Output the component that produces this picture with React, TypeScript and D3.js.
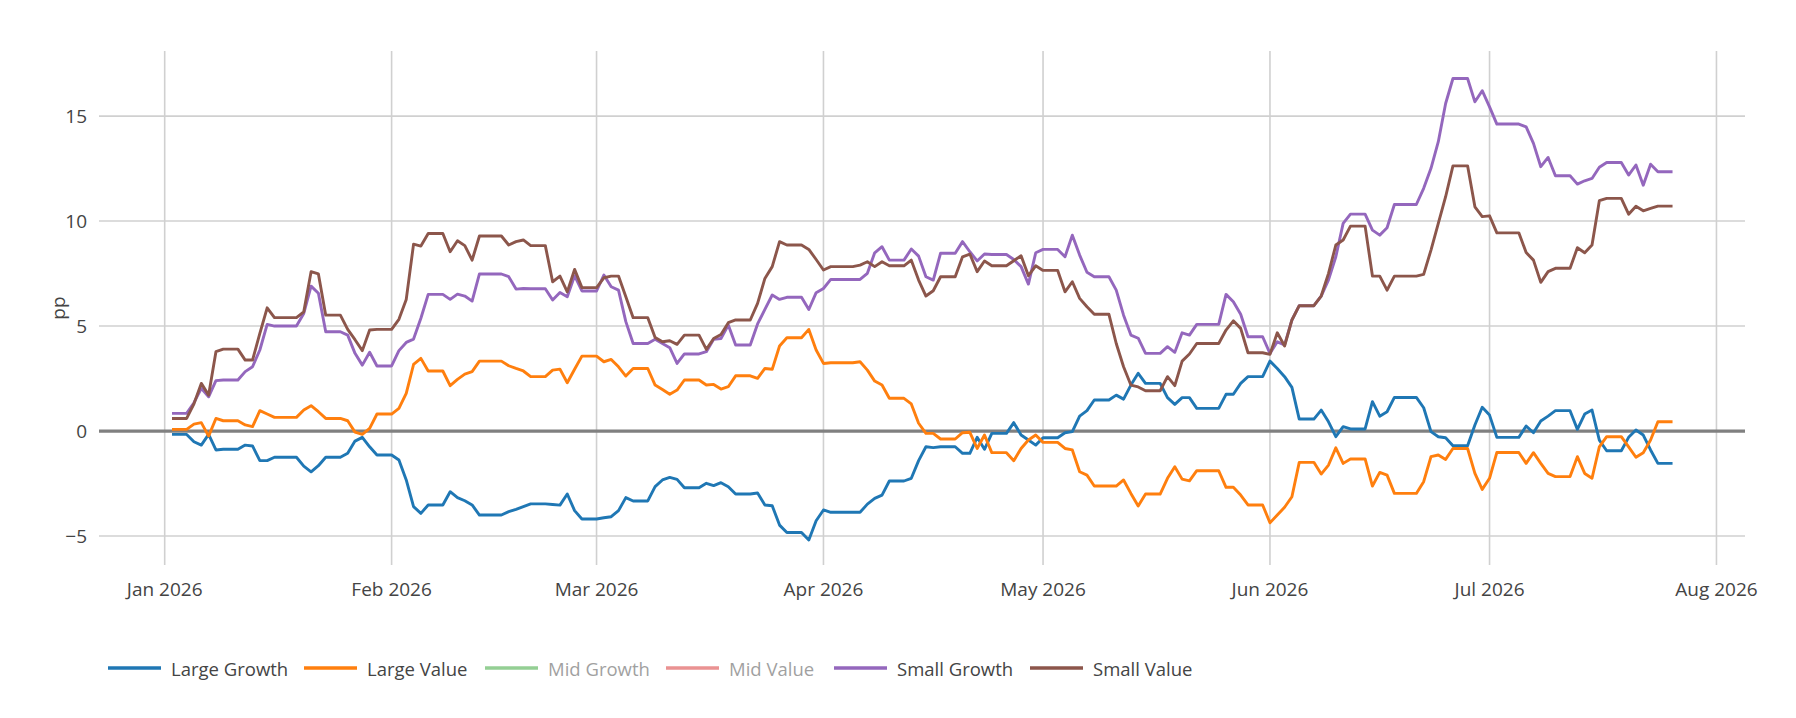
import React, { useRef, useEffect } from 'react';
import * as d3 from 'd3';

// daily values in pp, first value is Fri 2 Jan 2026 (weekends/holidays carry the last close)
const firstDay = Date.UTC(2026, 0, 2);

const largeGrowth = [
  -0.16, -0.16, -0.16, -0.51, -0.67, -0.16, -0.90,
  -0.87, -0.87, -0.87, -0.67, -0.71, -1.41, -1.41,
  -1.25, -1.25, -1.25, -1.25, -1.67, -1.94, -1.65,
  -1.25, -1.25, -1.25, -1.06, -0.48, -0.30, -0.75,
  -1.14, -1.14, -1.14, -1.38, -2.33, -3.60, -3.92,
  -3.52, -3.52, -3.52, -2.89, -3.17, -3.32, -3.52,
  -4.00, -4.00, -4.00, -4.00, -3.84, -3.73, -3.60,
  -3.47, -3.47, -3.47, -3.50, -3.53, -3.00, -3.79,
  -4.19, -4.19, -4.19, -4.13, -4.08, -3.79, -3.17,
  -3.33, -3.33, -3.33, -2.65, -2.33, -2.21, -2.30,
  -2.70, -2.70, -2.70, -2.49, -2.60, -2.46, -2.65,
  -3.00, -3.00, -3.00, -2.95, -3.52, -3.56, -4.48,
  -4.83, -4.83, -4.83, -5.19, -4.27, -3.76, -3.87,
  -3.87, -3.87, -3.87, -3.87, -3.48, -3.21, -3.05,
  -2.38, -2.38, -2.38, -2.25, -1.41, -0.75, -0.79,
  -0.75, -0.75, -0.75, -1.06, -1.06, -0.30, -0.87,
  -0.11, -0.11, -0.11, 0.40, -0.19, -0.43, -0.67,
  -0.32, -0.32, -0.32, -0.08, -0.03, 0.71, 0.97,
  1.48, 1.48, 1.48, 1.71, 1.52, 2.19, 2.75,
  2.27, 2.27, 2.27, 1.59, 1.27, 1.59, 1.59,
  1.08, 1.08, 1.08, 1.08, 1.75, 1.75, 2.27,
  2.59, 2.59, 2.59, 3.33, 2.98, 2.59, 2.08,
  0.57, 0.57, 0.57, 1.00, 0.44, -0.27, 0.21,
  0.10, 0.10, 0.10, 1.40, 0.71, 0.92, 1.60,
  1.60, 1.60, 1.60, 1.11, -0.03, -0.27, -0.32,
  -0.70, -0.70, -0.70, 0.29, 1.13, 0.76, -0.30,
  -0.30, -0.30, -0.30, 0.24, -0.08, 0.48, 0.71,
  0.97, 0.97, 0.97, 0.08, 0.81, 1.00, -0.43,
  -0.94, -0.94, -0.94, -0.30, 0.05, -0.19, -0.90,
  -1.54, -1.54, -1.54,
];

const largeValue = [
  0.08, 0.08, 0.08, 0.33, 0.40, -0.24, 0.60,
  0.49, 0.49, 0.49, 0.29, 0.21, 0.97, 0.81,
  0.65, 0.65, 0.65, 0.65, 1.00, 1.21, 0.92,
  0.60, 0.60, 0.60, 0.49, -0.05, -0.16, 0.13,
  0.81, 0.81, 0.81, 1.08, 1.79, 3.17, 3.46,
  2.86, 2.86, 2.86, 2.16, 2.46, 2.71, 2.83,
  3.33, 3.33, 3.33, 3.33, 3.11, 2.98, 2.86,
  2.59, 2.59, 2.59, 2.90, 2.95, 2.30, 2.94,
  3.57, 3.57, 3.57, 3.30, 3.41, 3.06, 2.62,
  2.98, 2.98, 2.98, 2.19, 1.98, 1.75, 1.95,
  2.43, 2.43, 2.43, 2.19, 2.22, 2.00, 2.11,
  2.63, 2.63, 2.63, 2.51, 2.98, 2.94, 4.05,
  4.44, 4.44, 4.44, 4.84, 3.86, 3.22, 3.25,
  3.25, 3.25, 3.25, 3.30, 2.90, 2.38, 2.19,
  1.56, 1.56, 1.56, 1.29, 0.37, -0.11, -0.11,
  -0.38, -0.38, -0.38, -0.08, -0.06, -0.83, -0.19,
  -1.03, -1.03, -1.03, -1.41, -0.83, -0.43, -0.19,
  -0.54, -0.54, -0.54, -0.83, -0.90, -1.94, -2.10,
  -2.62, -2.62, -2.62, -2.62, -2.33, -2.97, -3.57,
  -3.00, -3.00, -3.00, -2.25, -1.70, -2.29, -2.37,
  -1.89, -1.89, -1.89, -1.89, -2.68, -2.68, -3.05,
  -3.52, -3.52, -3.52, -4.37, -4.00, -3.63, -3.13,
  -1.49, -1.49, -1.49, -2.05, -1.62, -0.80, -1.54,
  -1.33, -1.33, -1.33, -2.62, -1.97, -2.10, -2.97,
  -2.97, -2.97, -2.97, -2.41, -1.22, -1.14, -1.35,
  -0.83, -0.83, -0.83, -2.02, -2.78, -2.25, -1.02,
  -1.02, -1.02, -1.02, -1.54, -1.03, -1.54, -2.02,
  -2.17, -2.17, -2.17, -1.22, -2.02, -2.25, -0.75,
  -0.27, -0.27, -0.27, -0.75, -1.25, -1.03, -0.43,
  0.44, 0.44, 0.44,
];

const smallGrowth = [
  0.84, 0.84, 0.84, 1.35, 2.03, 1.63, 2.40,
  2.43, 2.43, 2.43, 2.83, 3.06, 3.86, 5.08,
  5.00, 5.00, 5.00, 5.00, 5.60, 6.90, 6.56,
  4.73, 4.73, 4.73, 4.57, 3.70, 3.14, 3.75,
  3.10, 3.10, 3.10, 3.83, 4.22, 4.38, 5.37,
  6.51, 6.51, 6.51, 6.27, 6.52, 6.43, 6.19,
  7.48, 7.48, 7.48, 7.48, 7.35, 6.76, 6.79,
  6.78, 6.78, 6.78, 6.24, 6.60, 6.40, 7.40,
  6.67, 6.67, 6.67, 7.43, 6.87, 6.71, 5.21,
  4.17, 4.17, 4.17, 4.37, 4.17, 3.97, 3.22,
  3.67, 3.67, 3.67, 3.78, 4.37, 4.41, 5.05,
  4.10, 4.10, 4.10, 5.10, 5.79, 6.48, 6.27,
  6.37, 6.37, 6.37, 5.79, 6.59, 6.79, 7.22,
  7.22, 7.22, 7.22, 7.22, 7.51, 8.49, 8.78,
  8.14, 8.14, 8.14, 8.67, 8.33, 7.35, 7.19,
  8.47, 8.47, 8.47, 9.02, 8.54, 8.10, 8.43,
  8.41, 8.41, 8.41, 8.17, 7.83, 7.00, 8.49,
  8.65, 8.65, 8.65, 8.30, 9.33, 8.38, 7.56,
  7.35, 7.35, 7.35, 6.71, 5.52, 4.57, 4.42,
  3.70, 3.70, 3.70, 4.02, 3.75, 4.68, 4.57,
  5.08, 5.08, 5.08, 5.08, 6.51, 6.16, 5.56,
  4.49, 4.49, 4.49, 3.70, 4.25, 4.10, 5.29,
  5.97, 5.97, 5.97, 6.43, 7.20, 8.30, 9.89,
  10.33, 10.33, 10.33, 9.57, 9.33, 9.68, 10.79,
  10.79, 10.79, 10.79, 11.56, 12.51, 13.78, 15.60,
  16.79, 16.79, 16.79, 15.68, 16.21, 15.44, 14.62,
  14.62, 14.62, 14.62, 14.49, 13.70, 12.59, 13.03,
  12.16, 12.16, 12.16, 11.76, 11.92, 12.03, 12.56,
  12.79, 12.79, 12.79, 12.19, 12.67, 11.71, 12.71,
  12.35, 12.35, 12.35,
];

const smallValue = [
  0.60, 0.60, 0.60, 1.30, 2.27, 1.71, 3.78,
  3.90, 3.90, 3.90, 3.38, 3.38, 4.65, 5.87,
  5.40, 5.40, 5.40, 5.40, 5.68, 7.59, 7.48,
  5.52, 5.52, 5.52, 4.84, 4.35, 3.83, 4.81,
  4.84, 4.84, 4.84, 5.32, 6.27, 8.90, 8.81,
  9.41, 9.41, 9.41, 8.54, 9.06, 8.83, 8.14,
  9.29, 9.29, 9.29, 9.29, 8.86, 9.02, 9.10,
  8.83, 8.83, 8.83, 7.11, 7.38, 6.63, 7.70,
  6.83, 6.83, 6.83, 7.30, 7.38, 7.38, 6.40,
  5.40, 5.40, 5.40, 4.46, 4.25, 4.30, 4.13,
  4.57, 4.57, 4.57, 3.89, 4.41, 4.60, 5.16,
  5.29, 5.29, 5.29, 6.08, 7.27, 7.83, 9.02,
  8.86, 8.86, 8.86, 8.65, 8.17, 7.67, 7.83,
  7.83, 7.83, 7.83, 7.90, 8.06, 7.83, 8.06,
  7.87, 7.87, 7.87, 8.14, 7.19, 6.43, 6.68,
  7.35, 7.35, 7.35, 8.30, 8.43, 7.59, 8.10,
  7.87, 7.87, 7.87, 8.11, 8.35, 7.40, 7.87,
  7.65, 7.65, 7.65, 6.63, 7.11, 6.32, 5.92,
  5.56, 5.56, 5.56, 4.17, 3.06, 2.19, 2.10,
  1.92, 1.92, 1.92, 2.59, 2.16, 3.33, 3.67,
  4.17, 4.17, 4.17, 4.17, 4.81, 5.25, 4.89,
  3.73, 3.73, 3.73, 3.65, 4.68, 4.05, 5.29,
  5.97, 5.97, 5.97, 6.43, 7.51, 8.86, 9.10,
  9.76, 9.76, 9.76, 7.38, 7.38, 6.71, 7.38,
  7.38, 7.38, 7.38, 7.46, 8.62, 9.89, 11.16,
  12.63, 12.63, 12.63, 10.68, 10.21, 10.25, 9.44,
  9.44, 9.44, 9.44, 8.50, 8.14, 7.08, 7.59,
  7.75, 7.75, 7.75, 8.73, 8.49, 8.86, 10.97,
  11.08, 11.08, 11.08, 10.33, 10.71, 10.49, 10.60,
  10.71, 10.71, 10.71,
];

// Mid Growth / Mid Value are switched off in the legend (no line drawn)
const seriesNames = ['Large Growth', 'Large Value', 'Mid Growth', 'Mid Value', 'Small Growth', 'Small Value'];
const seriesColors = ['#1f77b4', '#ff7f0e', '#2ca02c', '#d62728', '#9467bd', '#8c564b'];
const seriesValues: (number[] | null)[] = [largeGrowth, largeValue, null, null, smallGrowth, smallValue];

const yTicks = [-5, 0, 5, 10, 15];
const yLabel = 'pp';

const WIDTH = 1796;
const HEIGHT = 718;
const FONT = "'Open Sans', 'Noto Sans', sans-serif";

const App: React.FC = () => {
  const svgRef = useRef<SVGSVGElement | null>(null);

  useEffect(() => {
    if (!svgRef.current) return;
    const svg = d3.select(svgRef.current);
    svg.selectAll('*').remove();

    const plot = { left: 99, right: 1745, top: 51, bottom: 565 };
    const dayMs = 86400000;
    const jan1 = Date.UTC(2026, 0, 1);

    const x = d3.scaleUtc()
      .domain([new Date(jan1 - 8.975 * dayMs), new Date(jan1 + 215.9 * dayMs)])
      .range([plot.left, plot.right]);

    const y = d3.scaleLinear()
      .domain([-6.38, 18.1])
      .range([plot.bottom, plot.top]);

    const dates = largeGrowth.map((_, i) => new Date(firstDay + i * dayMs));
    const monthTicks = d3.utcMonth.range(new Date(jan1), new Date(Date.UTC(2026, 7, 2)));

    svg.append('rect')
      .attr('width', WIDTH)
      .attr('height', HEIGHT)
      .attr('fill', 'white');

    // Grid
    svg.append('g')
      .selectAll('line')
      .data(monthTicks)
      .enter()
      .append('line')
      .attr('x1', d => x(d))
      .attr('x2', d => x(d))
      .attr('y1', plot.top)
      .attr('y2', plot.bottom)
      .attr('stroke', '#d0d0d0')
      .attr('stroke-width', 1.6);

    svg.append('g')
      .selectAll('line')
      .data(yTicks.filter(t => t !== 0))
      .enter()
      .append('line')
      .attr('x1', plot.left)
      .attr('x2', plot.right)
      .attr('y1', d => y(d))
      .attr('y2', d => y(d))
      .attr('stroke', '#d0d0d0')
      .attr('stroke-width', 1.6);

    // Zero line
    svg.append('line')
      .attr('x1', plot.left)
      .attr('x2', plot.right)
      .attr('y1', y(0))
      .attr('y2', y(0))
      .attr('stroke', '#808080')
      .attr('stroke-width', 3.2);

    // Tick labels
    svg.append('g')
      .selectAll('text')
      .data(monthTicks)
      .enter()
      .append('text')
      .attr('x', d => x(d))
      .attr('y', 596)
      .attr('text-anchor', 'middle')
      .attr('fill', '#444')
      .attr('font-family', FONT)
      .attr('font-size', '19px')
      .text(d => d3.utcFormat('%b %Y')(d));

    svg.append('g')
      .selectAll('text')
      .data(yTicks)
      .enter()
      .append('text')
      .attr('x', 87)
      .attr('y', d => y(d))
      .attr('dy', '0.36em')
      .attr('text-anchor', 'end')
      .attr('fill', '#444')
      .attr('font-family', FONT)
      .attr('font-size', '19px')
      .text(d => (d < 0 ? `\u2212${Math.abs(d)}` : `${d}`));

    svg.append('text')
      .attr('transform', `translate(65,${(plot.top + plot.bottom) / 2}) rotate(-90)`)
      .attr('text-anchor', 'middle')
      .attr('fill', '#444')
      .attr('font-family', FONT)
      .attr('font-size', '19px')
      .text(yLabel);

    // Lines
    const line = d3.line<number>()
      .x((_, i) => x(dates[i]))
      .y(d => y(d));

    seriesValues.forEach((values, i) => {
      if (!values) return;
      svg.append('path')
        .datum(values)
        .attr('fill', 'none')
        .attr('stroke', seriesColors[i])
        .attr('stroke-width', 2.9)
        .attr('stroke-linejoin', 'round')
        .attr('d', line);
    });

    // Legend (horizontal, items placed as in the original layout)
    const legendX = [108, 304, 485, 666, 834, 1030];
    const legend = svg.append('g').attr('transform', 'translate(0,668)');
    seriesNames.forEach((name, i) => {
      const item = legend.append('g')
        .attr('transform', `translate(${legendX[i]},0)`)
        .attr('opacity', seriesValues[i] ? 1 : 0.5);
      item.append('line')
        .attr('x1', 0)
        .attr('x2', 53)
        .attr('stroke', seriesColors[i])
        .attr('stroke-width', 3.6);
      item.append('text')
        .attr('x', 63)
        .attr('y', 7.5)
        .attr('fill', '#444')
        .attr('font-family', FONT)
        .attr('font-size', '18.5px')
        .text(name);
    });
  }, []);

  return (
    <svg
      ref={svgRef}
      width={WIDTH}
      height={HEIGHT}
      style={{ position: 'absolute', left: 0, top: 0, display: 'block' }}
    />
  );
};

export default App;
